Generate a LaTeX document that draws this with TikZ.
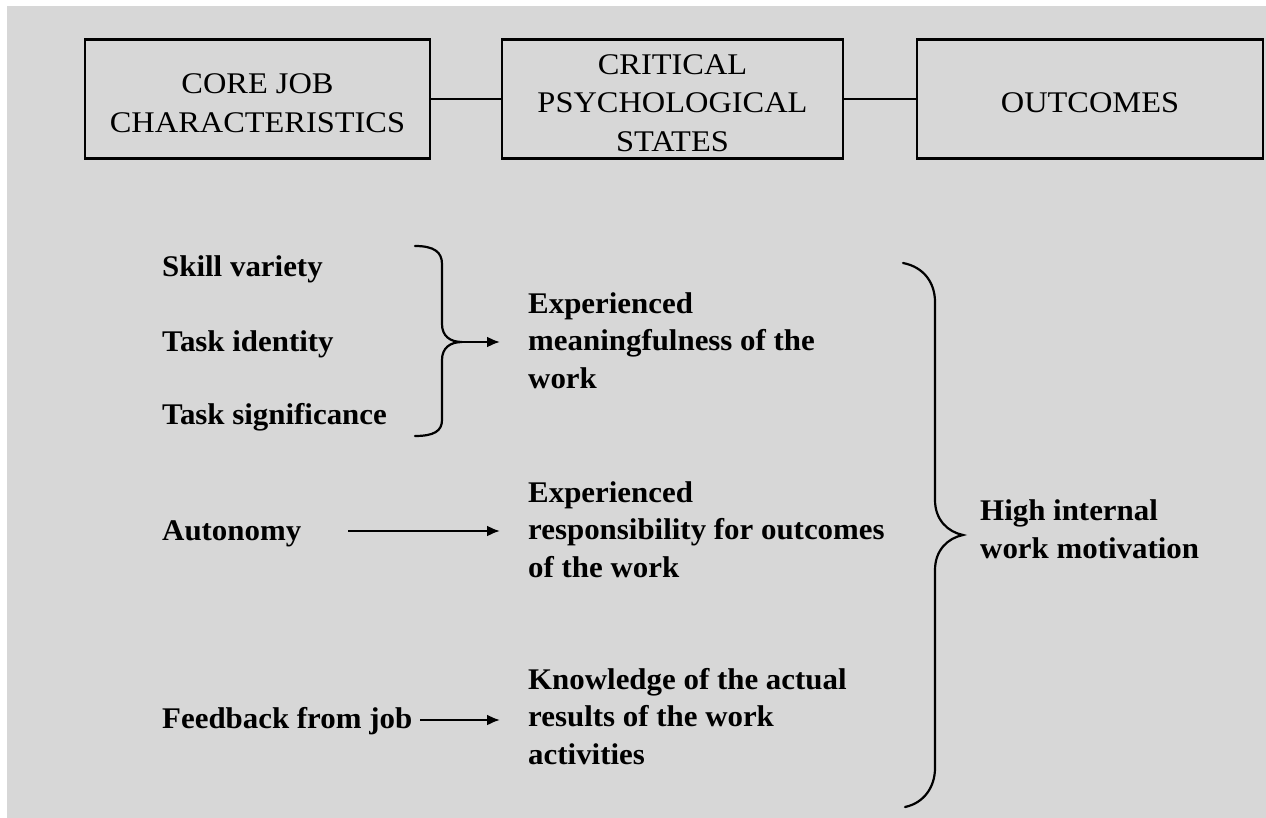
\documentclass[tikz,border=0pt]{standalone}
\usepackage{fontspec}
\setmainfont[FakeStretch=1.08]{Liberation Serif}
\newfontfamily\heavyserif[FakeStretch=1.03]{Liberation Serif}
\usetikzlibrary{arrows.meta}
\definecolor{panel}{RGB}{215,215,215}
\newcommand{\firstline}{\rule{0pt}{28pt}}
\begin{document}
\begin{tikzpicture}[x=1pt,y=-1pt,
  header/.style={draw=black, line width=2.2pt, minimum height=119pt, align=center,
    inner sep=0pt, font=\fontsize{30}{38.5}\selectfont},
  label/.style={anchor=base west, align=left, inner sep=0pt,
    font=\heavyserif\bfseries\fontsize{30}{37.5}\selectfont},
  link/.style={line width=2.2pt},
  arr/.style={line width=2.2pt, -{Latex[length=13pt,width=11pt]}},
  brace/.style={line width=2.2pt, line cap=round}]

% page and grey panel
\useasboundingbox (0,0) rectangle (1266,818);
\fill[panel] (7,6) rectangle (1266,818);

% header boxes
\node[header, minimum width=345pt] (core) at (257.5,99) {\firstline CORE JOB\\CHARACTERISTICS};
\node[header, minimum width=341pt] (states) at (672.5,99) {\firstline CRITICAL\\PSYCHOLOGICAL\\STATES};
\node[header, minimum width=346pt] (out) at (1090,99) {\firstline OUTCOMES};
\draw[link] (core) -- (states);
\draw[link] (states) -- (out);

% core job characteristics (base = baseline of the last line)
\node[label] (skill) at (162,277) {Skill variety};
\node[label] (ident) at (162,351) {Task identity};
\node[label] (signif) at (162,424) {Task significance};
\node[label] (auto) at (162,540) {Autonomy};
\node[label] (feed) at (162,728) {Feedback from job};

% psychological states
\node[label] (mean) at (528,388) {Experienced\\meaningfulness of the\\work};
\node[label] (resp) at (528,577) {Experienced\\responsibility for outcomes\\of the work};
\node[label] (know) at (528,764) {Knowledge of the actual\\results of the work\\activities};

% outcome
\node[label] (motiv) at (980,558) {High internal\\work motivation};

% brace gathering the first three characteristics
\draw[brace] (415,246) .. controls (434,246) and (442,252) .. (442,264)
  -- (442,324) .. controls (442,336) and (450,342) .. (462,342)
  .. controls (450,342) and (442,348) .. (442,360)
  -- (442,420) .. controls (442,431) and (434,436) .. (415,436);
\coordinate (tip1) at (462,342);
\coordinate (meanin) at (500,342);
\draw[arr] (tip1) -- (meanin);

% single characteristic arrows
\coordinate (autoout) at (348,531);
\coordinate (respin) at (500,531);
\draw[arr] (autoout) -- (respin);
\coordinate (feedout) at (420,720);
\coordinate (knowin) at (500,720);
\draw[arr] (feedout) -- (knowin);

% brace gathering the three states
\draw[brace] (903,263) .. controls (924,267) and (935,283) .. (935,302)
  -- (935,500) .. controls (935,520) and (948,532) .. (963,535)
  .. controls (948,538) and (935,550) .. (935,570)
  -- (935,768) .. controls (935,787) and (924,803) .. (905,807);
\end{tikzpicture}
\end{document}
